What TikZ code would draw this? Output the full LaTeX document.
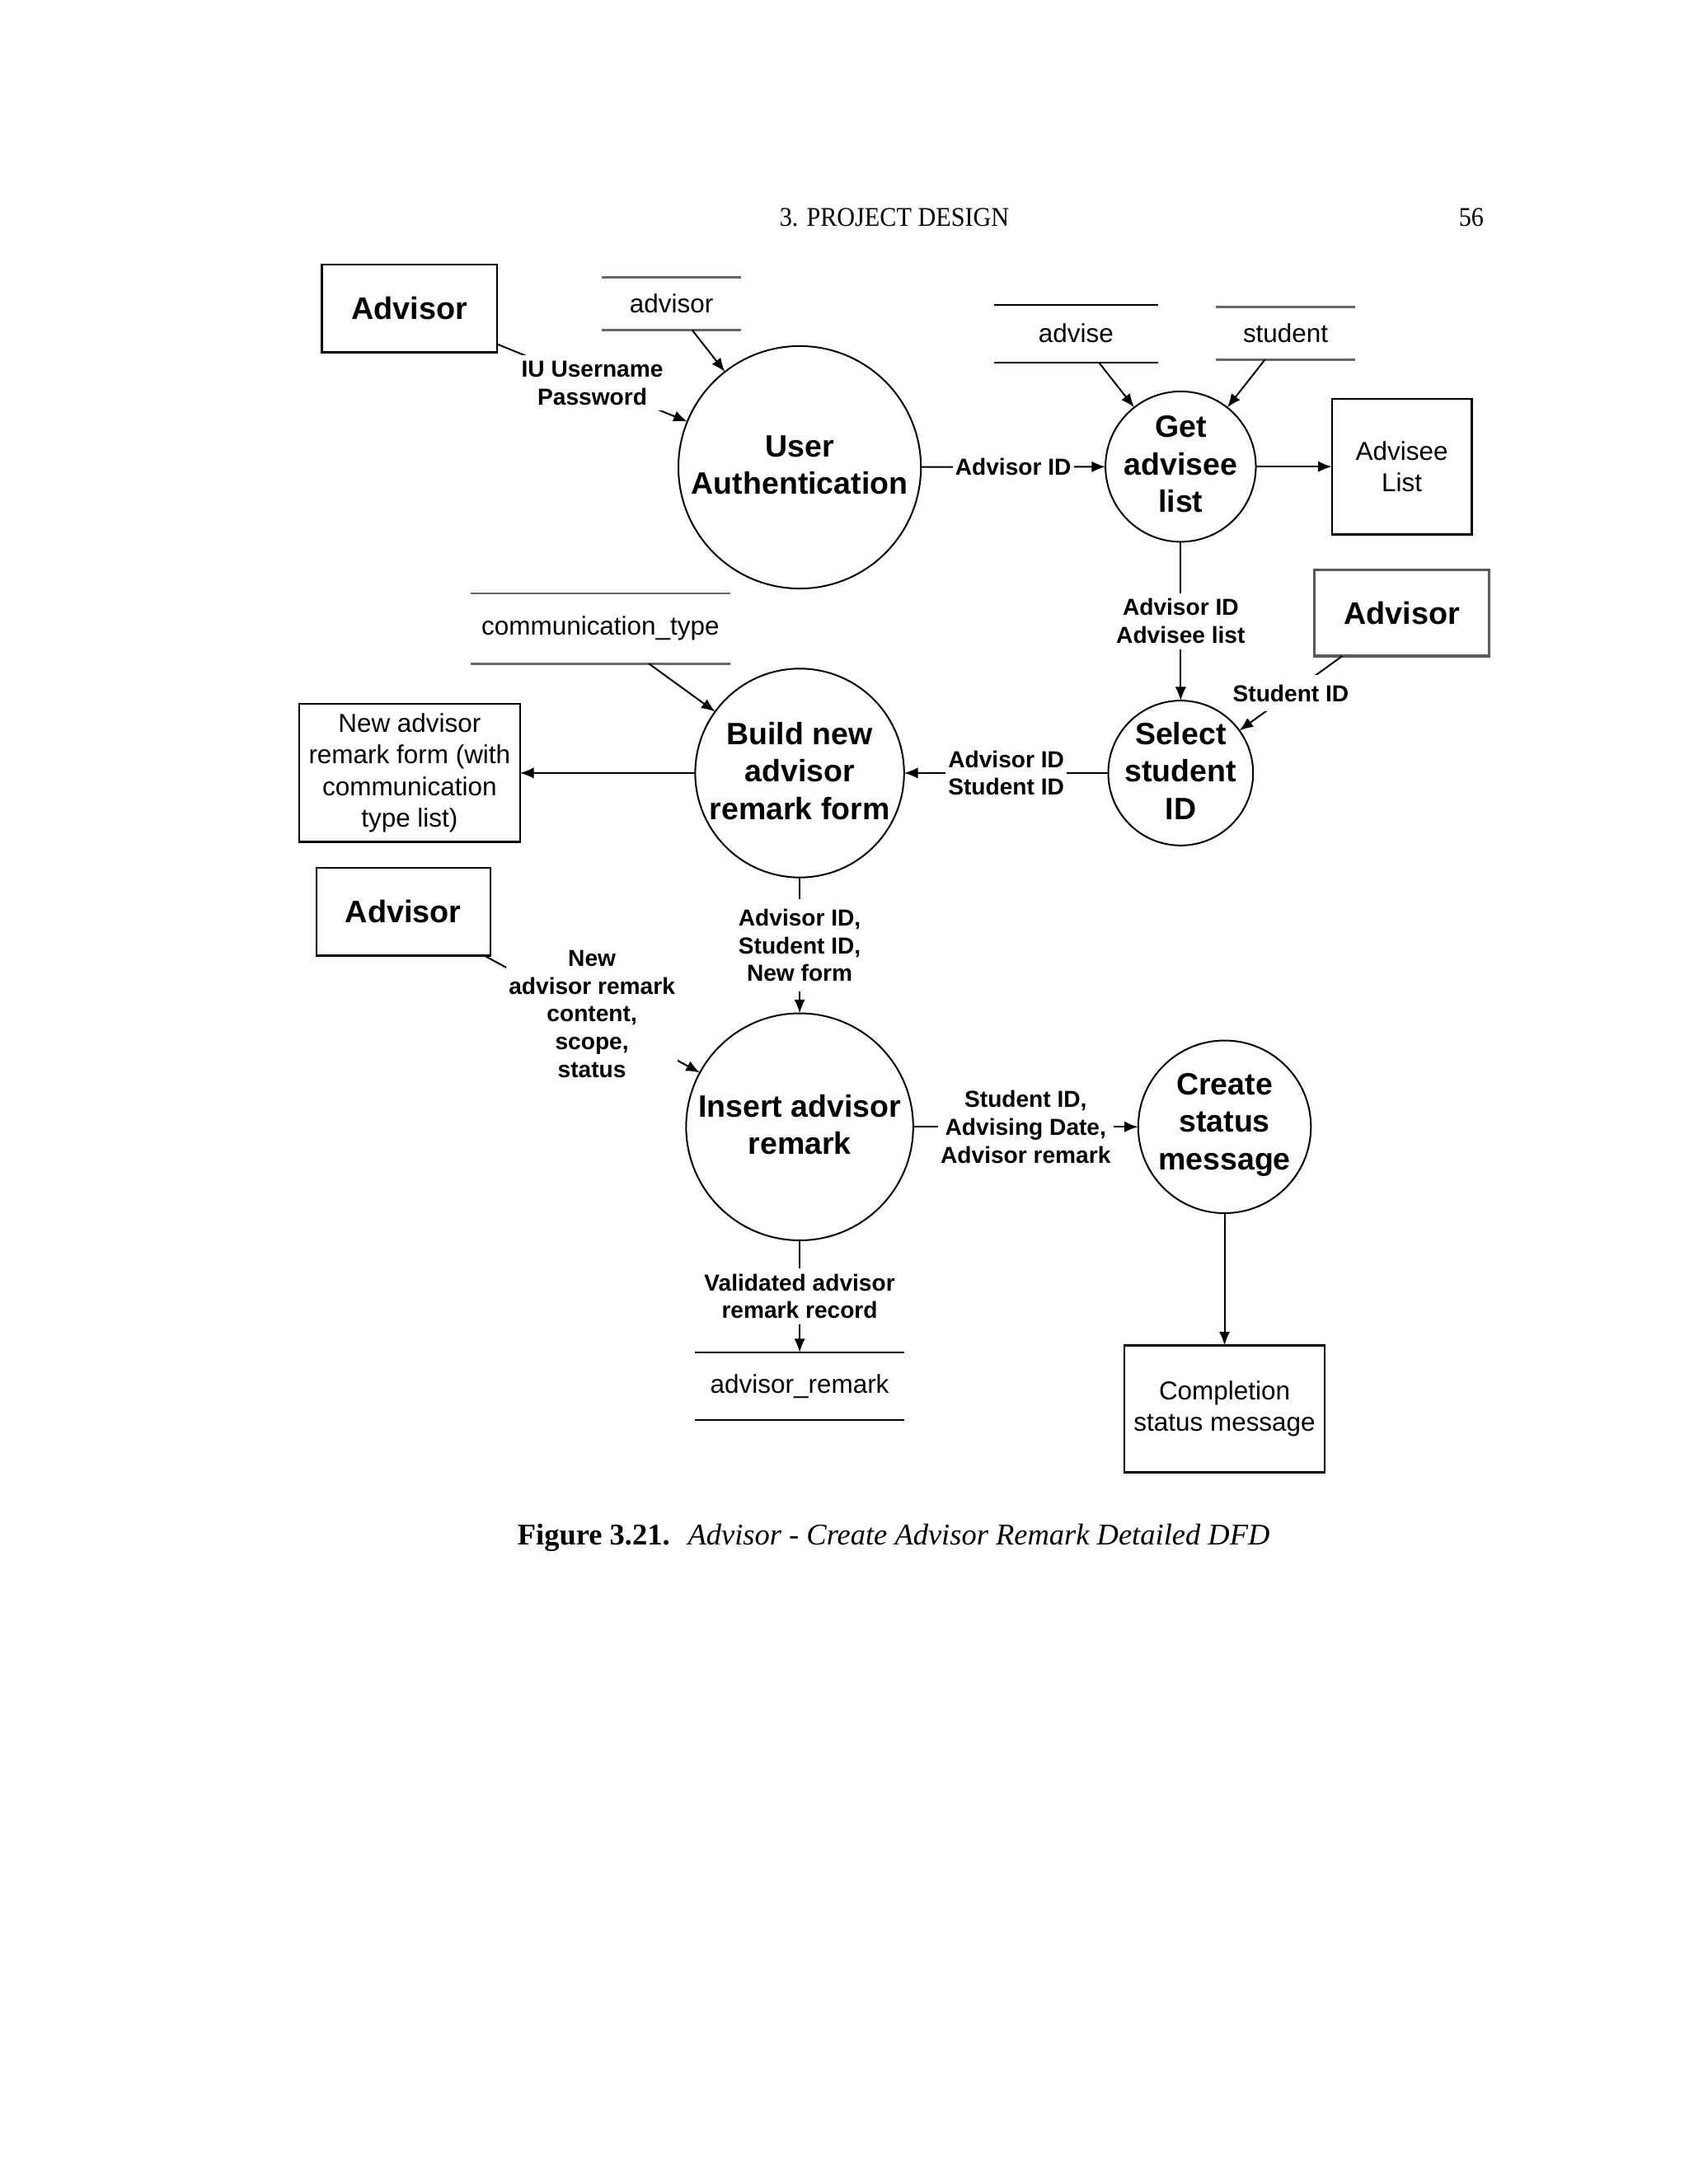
\documentclass[tikz,border=0pt]{standalone}
\usepackage{fontspec}
\usepackage{graphicx}
\setmainfont{Liberation Serif}
\newfontfamily\arialfont{Liberation Sans}
\usetikzlibrary{arrows.meta}
\begin{document}
\begin{tikzpicture}[x=0.50495pt,y=-0.50495pt,
  every node/.style={inner sep=0pt, outer sep=0pt},
  ln/.style={line width=0.6pt, draw=black},
  gln/.style={line width=0.85pt, draw=black!60},
  proc/.style={circle, draw, line width=0.6pt, inner sep=0pt},
  proctext/.style={font=\arialfont\bfseries\fontsize{11.2}{13.6}\selectfont, align=center, yshift=0.8pt},
  ent/.style={draw, line width=0.7pt, font=\arialfont\bfseries\fontsize{11.3}{13.6}\selectfont},
  outbox/.style={draw, line width=0.7pt, font=\arialfont\fontsize{9.4}{11.5}\selectfont, align=center},
  store/.style={font=\arialfont\fontsize{9.4}{11.5}\selectfont},
  lbl/.style={fill=white, inner xsep=1pt, inner ysep=2pt, font=\arialfont\bfseries\fontsize{8.4}{10.1}\selectfont, align=center},
  flow/.style={line width=0.6pt, -{Latex[length=5pt,width=4pt]}},
]
\fill[white] (0,0) rectangle (1212,1568);
\useasboundingbox (0,0) rectangle (1212,1568);

% header and caption
\node[font=\fontsize{9.8}{12}\selectfont] (hdr) at (642,156) {\scalebox{0.92}[1]{3. PROJECT DESIGN}};
\node[anchor=east, font=\fontsize{9.8}{12}\selectfont] (pgno) at (1065,156) {\scalebox{0.92}[1]{56}};
\node (cap) at (641.5,1104) {\fontsize{10.9}{13}\selectfont\textbf{Figure 3.21.}\hspace{0.6em}\textit{Advisor - Create Advisor Remark Detailed DFD}};

% external entities
\node[ent, minimum width=63.6pt, minimum height=31.8pt] (adv1) at (294,221.5) {Advisor};
\node[ent, draw=black!65, line width=0.9pt, minimum width=63.4pt, minimum height=31.3pt] (adv2) at (1006.25,440) {Advisor};
\node[ent, minimum width=63.1pt, minimum height=31.8pt] (adv3) at (289.5,654.5) {Advisor};

% output boxes
\node[outbox, minimum width=50.7pt, minimum height=49.2pt] (alist) at (1006.25,335) {Advisee\\List};
\node[outbox, minimum width=80pt, minimum height=50pt] (newform) at (294,555) {New advisor\\remark form (with\\communication\\type list)};
\node[outbox, minimum width=72.7pt, minimum height=46pt] (compl) at (879,1011.5) {Completion\\status message};

% data stores
\node[store, minimum width=50.5pt, minimum height=19.2pt] (sadvisor) at (482,218) {advisor};
\draw[gln] (sadvisor.north west) -- (sadvisor.north east) (sadvisor.south west) -- (sadvisor.south east);
\node[store, minimum width=59.4pt, minimum height=20.9pt] (sadvise) at (772.4,239.4) {advise};
\draw[ln] (sadvise.north west) -- (sadvise.north east) (sadvise.south west) -- (sadvise.south east);
\node[store, minimum width=50.7pt, minimum height=19.1pt] (sstudent) at (922.8,239.4) {student};
\draw[gln] (sstudent.north west) -- (sstudent.north east) (sstudent.south west) -- (sstudent.south east);
\node[store, minimum width=93.9pt, minimum height=25.5pt] (scomm) at (431,451.25) {communication\_type};
\draw[gln] (scomm.north west) -- (scomm.north east) (scomm.south west) -- (scomm.south east);
\node[store, minimum width=76.1pt, minimum height=24.5pt] (sarem) at (574,995.25) {advisor\_remark};
\draw[ln] (sarem.north west) -- (sarem.north east) (sarem.south west) -- (sarem.south east);

% processes
\node[proc, minimum size=87.9pt] (ua) at (574,335.5) {};
\node[proctext] (uat) at (ua) {User\\Authentication};
\node[proc, minimum size=54.5pt] (get) at (847.5,335) {};
\node[proctext] (gett) at (get) {Get\\advisee\\list};
\node[proc, minimum size=52.5pt] (sel) at (847.5,555) {};
\node[proctext] (selt) at (sel) {Select\\student\\ID};
\node[proc, minimum size=75.7pt] (build) at (574,555) {};
\node[proctext] (buildt) at (build) {Build new\\advisor\\remark form};
\node[proc, minimum size=82.3pt] (ins) at (574,809) {};
\node[proctext] (inst) at (ins) {Insert advisor\\remark};
\node[proc, minimum size=62.6pt] (create) at (879,809) {};
\node[proctext] (createt) at (create) {Create\\status\\message};

% flows
\draw[flow] (adv1) -- node[lbl]{IU Username\\Password} (ua);
\draw[flow] (sadvisor) -- (ua);
\draw[flow] (ua) -- node[lbl]{Advisor ID} (get);
\draw[flow] (sadvise) -- (get);
\draw[flow] (sstudent) -- (get);
\draw[flow] (get) -- (alist);
\draw[flow] (get) -- node[lbl]{Advisor ID\\Advisee list} (sel);
\draw[flow] (adv2) -- node[lbl, inner ysep=3.5pt]{Student ID} (sel);
\draw[flow] (sel) -- node[lbl]{Advisor ID\\Student ID} (build);
\draw[flow] (scomm) -- (build);
\draw[flow] (build) -- (newform);
\draw[flow] (build) -- node[lbl, inner ysep=3.5pt]{Advisor ID,\\Student ID,\\New form} (ins);
\draw[flow] (adv3) -- node[lbl]{New\\advisor remark\\content,\\scope,\\status} (ins);
\draw[flow] (ins) -- node[lbl]{Student ID,\\Advising Date,\\Advisor remark} (create);
\draw[flow] (create) -- (compl);
\draw[flow] (ins) -- node[lbl]{Validated advisor\\remark record} (sarem);
\end{tikzpicture}
\end{document}
